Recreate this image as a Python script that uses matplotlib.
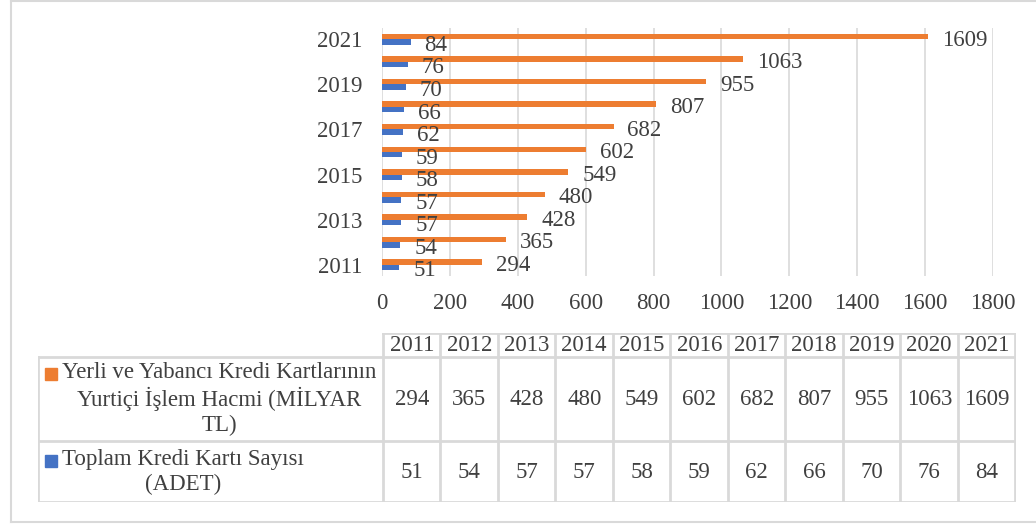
import matplotlib
matplotlib.use("Agg")
import matplotlib.pyplot as plt
from matplotlib.lines import Line2D
from matplotlib.patches import Rectangle

plt.rcParams["font.family"] = ["Liberation Serif", "DejaVu Serif"]

years = [2011, 2012, 2013, 2014, 2015, 2016, 2017, 2018, 2019, 2020, 2021]
hacim = [294, 365, 428, 480, 549, 602, 682, 807, 955, 1063, 1609]
kart = [51, 54, 57, 57, 58, 59, 62, 66, 70, 76, 84]
series_names = [
    "Yerli ve Yabancı Kredi Kartlarının\nYurtiçi İşlem Hacmi (MİLYAR\nTL)",
    "Toplam Kredi Kartı Sayısı\n(ADET)",
]
x_ticks = [0, 200, 400, 600, 800, 1000, 1200, 1400, 1600, 1800]

ORANGE = "#ED7D31"
BLUE = "#4472C4"
TEXT = "#404040"
GRID = "#d9d9d9"
FS = 16.5

W, H = 1036, 529
fig = plt.figure(figsize=(W / 100, H / 100), dpi=100)


def fx(px):
    return px / W


def fy(py):
    return 1 - py / H


# chart area border (left, top, bottom)
for xs, ys in [((11, 11), (1, 522)), ((11, W), (1, 1)), ((11, W), (522, 522))]:
    fig.add_artist(Line2D([fx(x) for x in xs], [fy(y) for y in ys],
                          color=GRID, lw=1.5, transform=fig.transFigure))

# --- bar chart ---
ax = fig.add_axes([fx(382), fy(276), fx(993) - fx(382), fy(28) - fy(276)])
pos = list(range(len(years)))
h = 0.24
b1 = ax.barh([p + h / 2 for p in pos], hacim, height=h, color=ORANGE, zorder=3)
b2 = ax.barh([p - h / 2 for p in pos], kart, height=h, color=BLUE, zorder=3)
for bars in (b1, b2):
    for lab in ax.bar_label(bars, padding=10, fontsize=FS, color=TEXT):
        lab.xyann = (10, -2.5)

ax.set_xlim(0, 1800)
ax.set_ylim(-0.5, len(years) - 0.5)
ax.set_xticks(x_ticks)
ax.set_yticks(pos[::2])
ax.set_yticklabels([str(y) for y in years[::2]])
ax.tick_params(axis="both", length=0, labelsize=FS, labelcolor=TEXT)
ax.tick_params(axis="y", pad=14)
ax.tick_params(axis="x", pad=12)
ax.grid(axis="x", color=GRID, lw=1.2, zorder=0)
ax.set_axisbelow(True)
for s in ax.spines.values():
    s.set_visible(False)

# --- data table ---
col_w = 57.5
hdr_w = 345.0
left_px, right_px = 38, 383 + col_w * len(years)
top_px, bot_px = 333, 502
row_edges = [333, 357, 441, 502]  # header, row1, row2 (pixels from top)

tax = fig.add_axes([fx(left_px), fy(bot_px), fx(right_px) - fx(left_px), fy(top_px) - fy(bot_px)])
tax.set_xlim(-hdr_w, col_w * len(years))
tax.set_ylim(bot_px, top_px)
tax.axis("off")

lkw = dict(color=GRID, lw=2, solid_capstyle="projecting")
tax.plot([0, col_w * len(years)], [row_edges[0]] * 2, **lkw)
for y in row_edges[1:]:
    tax.plot([-hdr_w, col_w * len(years)], [y, y], **lkw)
tax.plot([-hdr_w, -hdr_w], [row_edges[1], row_edges[3]], **lkw)
for i in range(len(years) + 1):
    tax.plot([i * col_w] * 2, [row_edges[0], row_edges[3]], **lkw)

for i, yr in enumerate(years):
    cx = (i + 0.5) * col_w
    tax.text(cx, (row_edges[0] + row_edges[1]) / 2 + 1, str(yr), ha="center", va="center",
             fontsize=FS, color=TEXT)
    tax.text(cx, (row_edges[1] + row_edges[2]) / 2 + 1, str(hacim[i]), ha="center", va="center",
             fontsize=FS, color=TEXT)
    tax.text(cx, (row_edges[2] + row_edges[3]) / 2 + 1, str(kart[i]), ha="center", va="center",
             fontsize=FS, color=TEXT)

# row headers with legend keys
for name, color, ykey, ytxt in [(series_names[0], ORANGE, 368, 399), (series_names[1], BLUE, 455, 472)]:
    tax.add_patch(Rectangle((45 - left_px - hdr_w, ykey + 12), 12, -12, color=color, clip_on=False))
    tax.text(62 - left_px - hdr_w, ytxt, name, ha="left", va="center", multialignment="center",
             fontsize=FS, color=TEXT, linespacing=1.22)

fig.savefig("out.png", dpi=100)
